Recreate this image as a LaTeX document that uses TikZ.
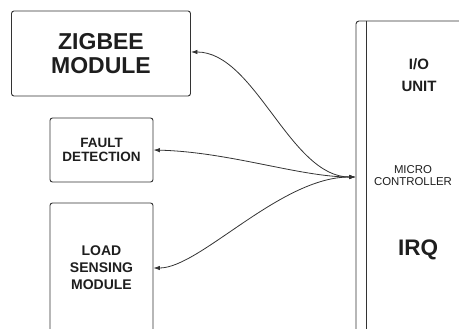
\documentclass[tikz,border=0pt]{standalone}
\usepackage{fontspec}
\setmainfont{Liberation Sans}
\usetikzlibrary{arrows.meta}
\definecolor{edge}{HTML}{333333}
\definecolor{ink}{HTML}{1E1E1E}
\begin{document}
\begin{tikzpicture}[x=1pt,y=-1pt,
  box/.style={draw=edge,line width=0.9pt,rounded corners=2.5pt,inner sep=0pt,text=ink,align=center},
  lbl/.style={inner sep=0pt,text=ink,align=center},
  link/.style={draw=edge,line width=0.8pt,{Latex[length=6.5pt,width=4.5pt]}-{Latex[length=6.5pt,width=4.5pt]}}]
\useasboundingbox (0,0) rectangle (459,329);
\node[box,minimum width=179pt,minimum height=85pt,
  font=\fontsize{23}{24}\selectfont\bfseries] (zig) at (101,53.5) {ZIGBEE\\MODULE};
\node[box,minimum width=103pt,minimum height=64pt,
  font=\fontsize{13.5}{13.5}\selectfont\bfseries] (fault) at (101.5,150) {FAULT\\DETECTION};
\node[box,minimum width=103pt,minimum height=130pt,
  font=\fontsize{14}{17}\selectfont\bfseries] (load) at (101.5,268) {LOAD\\SENSING\\MODULE};
\node[box,minimum width=120pt,minimum height=330pt,rounded corners=3pt] (micro) at (416,186) {};
\draw[edge,line width=0.9pt] (micro.north west) ++(11,0) coordinate (divtop) -- (divtop |- 0,340);
\node[lbl,font=\fontsize{15}{22}\selectfont\bfseries] (io) at (419,75) {I/O\\UNIT};
\node[lbl,font=\fontsize{11.4}{12}\selectfont] (mc) at (413,176) {MICRO\\CONTROLLER};
\node[lbl,font=\fontsize{22.5}{24}\selectfont\bfseries] (irq) at (418,250) {IRQ};
\coordinate (hub) at (micro.west |- 0,177);
\draw[link] (zig.east |- 0,52) .. controls (255,52) and (290,177) .. (hub);
\draw[link] (fault.east) .. controls (230,152) and (300,177) .. (hub);
\draw[link] (load.east) .. controls (200,268) and (280,177) .. (hub);
\end{tikzpicture}
\end{document}
